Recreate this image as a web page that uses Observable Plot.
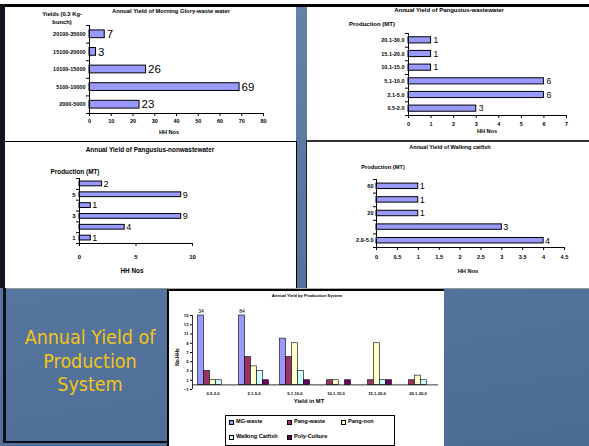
<!DOCTYPE html>
<html><head><meta charset="utf-8">
<script src="https://cdn.jsdelivr.net/npm/d3@7"></script>
<script src="https://cdn.jsdelivr.net/npm/@observablehq/plot@0.6"></script>
<style>
html,body{margin:0;padding:0;}
body{width:589px;height:446px;position:relative;overflow:hidden;background:linear-gradient(170deg,#6485ae 0%,#5878a2 45%,#4c6b94 100%);font-family:"Liberation Sans",Arial,sans-serif;}
.box{position:absolute;box-sizing:border-box;}
.abs{position:absolute;white-space:nowrap;line-height:1;}
svg{overflow:visible;}
</style></head><body>
<script>
// ---- Panel A: Morning Glory (waste water) ----
const mgCategories = ["2000-5000","5100-10000","10100-15000","15100-20000","20100-35000"];
const mgHH = [23, 69, 26, 3, 7];
// ---- Panel B: Pangusius (waste water) ----
const pwCategories = ["0.5-2.0","2.1-5.0","5.1-10.0","10.1-15.0","15.1-20.0","20.1-30.0"];
const pwHH = [3, 6, 6, 1, 1, 1];
// ---- Panel C: Pangusius (non waste water) ----
const pnTickLabels = ["1","","3","","5",""];
const pnHH = [1, 4, 9, 1, 9, 2];
// ---- Panel D: Walking catfish ----
const wcTickLabels = ["2.0-5.0","","20","","60"];
const wcHH = [4, 3, 1, 1, 1];
// ---- Panel E: Annual Yield by Production System ----
const sysCategories = ["0.5-2.0","2.1-5.0","5.1-10.0","10.1-15.0","15.1-20.0","20.1-30.0"];
const seriesNames = ["MG-waste","Pang-waste","Pang-non","Walking Catfish","Poly-Culture"];
const mgWaste = [34, 84, 10, 0, 0, 0];
const pangWaste = [3, 6, 6, 1, 1, 1];
const pangNon = [1, 4, 9, 1, 9, 2];
const walkingCatfish = [1, 3, 3, 0, 1, 1];
const polyCulture = [0, 1, 1, 1, 1, 0];
const seriesColors = ["#9999FF","#993366","#FFFFCC","#CCFFFF","#660066"];
const sysYTicks = [-1, 1, 3, 5, 7, 9, 11, 13, 15];

const BAR = "#9999FF";

function box(x, y, w, h, css) {
  const d = document.createElement("div");
  d.className = "box";
  Object.assign(d.style, {left: x + "px", top: y + "px", width: w + "px", height: h + "px"}, css);
  document.body.appendChild(d);
  return d;
}
function txt(s, x, y, css, anchor = "middle", extra = "") {
  const d = document.createElement("div");
  d.className = "abs";
  d.textContent = s;
  Object.assign(d.style, {fontWeight: "bold", color: "#000"}, css);
  d.style.left = x + "px"; d.style.top = y + "px";
  d.style.transform = (anchor === "middle" ? "translate(-50%,-50%)" : anchor === "end" ? "translate(-100%,-50%)" : "translate(0,-50%)") + " " + extra;
  document.body.appendChild(d);
  return d;
}
function place(el, x, y) {
  el.style.position = "absolute"; el.style.left = x + "px"; el.style.top = y + "px";
  document.body.appendChild(el);
}

// ---------- frame / panels ----------
box(0, 0, 589, 4, {background: "#fff"});
box(5, 6, 291, 135, {background: "#fff"});
box(307, 6, 282, 134, {background: "#fff"});
box(5, 142, 291, 146, {background: "#fff"});
box(307, 141, 282, 147, {background: "#fff"});
box(169, 290, 275, 156, {background: "#fff"});
box(0, 4, 589, 2.5, {background: "#000"});
box(0, 4, 5, 284, {background: "#11141c"});
box(5, 141, 291, 1, {background: "#000"});
box(307, 140, 282, 1.5, {background: "#333"});
box(295.5, 141, 1.2, 147, {background: "#000"});
box(306, 140, 1.2, 148, {background: "#222"});
box(5, 287.5, 291, 1, {background: "#999"});
box(307, 287.5, 282, 1, {background: "#999"});
box(168, 288, 276, 1, {background: "#aaa"});
box(168, 289, 276, 1.5, {background: "#000"});
box(167, 289, 2, 157, {background: "#000"});
box(3, 288, 2.5, 155, {background: "#0d1018"});
box(3, 441, 166, 2, {background: "#0d1018"});

// ---------- horizontal bar chart helper ----------
function hbar(o) {
  const n = o.values.length;
  const data = o.values.map((v, i) => ({i, v}));
  const pad = o.pad;
  const svg = Plot.plot({
    width: o.width, height: o.height,
    marginLeft: o.mL, marginRight: o.mR, marginTop: o.mT, marginBottom: o.mB,
    x: {domain: [0, o.xMax]},
    y: {domain: [0, n]},
    style: {background: "transparent", fontFamily: o.font, fontSize: o.tickSize + "px", fontWeight: "bold", overflow: "visible"},
    marks: [
      Plot.rect(data, {x1: () => 0, x2: "v", y1: d => d.i + pad / 2, y2: d => d.i + 1 - pad / 2, fill: BAR, stroke: "#000", strokeWidth: 1}),
      Plot.ruleX([0], {stroke: "#000", strokeWidth: 1}),
      Plot.ruleY([0], {stroke: "#000", strokeWidth: 1}),
      Plot.axisY(d3.range(n + 1), {tickSize: 3, tickFormat: () => "", label: null}),
      Plot.axisY(d3.range(n).map(i => i + 0.5), {tickSize: 0, tickPadding: o.yPad, tickFormat: t => o.labels[Math.floor(t)], label: null}),
      Plot.axisX(d3.range(0, o.xMax + o.xStep / 2, o.xStep), {tickSize: 3, tickPadding: o.xPad, tickFormat: d => String(+d.toFixed(2)), label: null}),
      Plot.text(data, {x: "v", y: d => d.i + 0.5, text: d => String(d.v), dx: o.labelDx, textAnchor: "start", fontSize: o.labelSize, fontWeight: "normal", fontFamily: o.labelFont || o.font})
    ]
  });
  place(svg, o.left, o.top);
}

// Panel A
hbar({left: 5, top: 4, width: 291, height: 137, mL: 84, mR: 33, mT: 21, mB: 28,
  values: mgHH, labels: mgCategories, xMax: 80, xStep: 10, pad: 0.56,
  font: "Liberation Sans, Arial, sans-serif", tickSize: 5.5, yPad: 4, xPad: 3, labelSize: 11.5, labelDx: 2});
txt("Annual Yield of Morning Glory-waste water", 171, 12, {fontSize: "5.8px"});
txt("Yields (0.3 Kg-", 62, 15, {fontSize: "5.8px"});
txt("bunch)", 62, 23, {fontSize: "5.8px"});
txt("HH Nos", 169, 133, {fontSize: "5.6px"});

// Panel B
hbar({left: 307, top: 4, width: 282, height: 136, mL: 101, mR: 23, mT: 29, mB: 25,
  values: pwHH, labels: pwCategories, xMax: 7, xStep: 1, pad: 0.55,
  font: "Liberation Sans, Arial, sans-serif", tickSize: 5.5, yPad: 4, xPad: 4, labelSize: 8.5, labelDx: 2.5});
txt("Annual Yield of Pangusius-wastewater", 449, 10, {fontSize: "6px"});
txt("Production (MT)", 372, 24, {fontSize: "6px"});
txt("HH Nos", 487, 132, {fontSize: "5.6px"});

// Panel C
const narrow = "Liberation Sans Narrow, Liberation Sans, Arial, sans-serif";
hbar({left: 5, top: 141, width: 291, height: 147, mL: 74, mR: 104, mT: 37, mB: 45,
  values: pnHH, labels: pnTickLabels, xMax: 10, xStep: 5, pad: 0.56,
  font: narrow, tickSize: 6, yPad: 4, xPad: 8, labelSize: 9, labelDx: 1.5});
txt("Annual Yield of Pangusius-nonwastewater", 150, 150, {fontSize: "6.4px", fontFamily: narrow});
txt("Production (MT)", 75, 172, {fontSize: "6.4px", fontFamily: narrow});
txt("HH Nos", 132, 271, {fontSize: "6.4px", fontFamily: narrow});

// Panel D
hbar({left: 307, top: 140, width: 282, height: 148, mL: 69, mR: 25, mT: 39, mB: 41,
  values: wcHH, labels: wcTickLabels, xMax: 4.5, xStep: 0.5, pad: 0.6,
  font: narrow, tickSize: 5.6, yPad: 3, xPad: 5, labelSize: 9, labelDx: 1.5});
txt("Annual Yield of Walking catfish", 450, 148, {fontSize: "5.5px", fontFamily: narrow});
txt("Production (MT)", 383, 168, {fontSize: "5.7px", fontFamily: narrow});
txt("HH Nos", 468, 272, {fontSize: "5.7px", fontFamily: narrow});

// Panel E: grouped bars
(function () {
  const series = [mgWaste, pangWaste, pangNon, walkingCatfish, polyCulture];
  const data = [];
  series.forEach((arr, s) => arr.forEach((v, c) => data.push({c, s, v, name: seriesNames[s]})));
  const yMax = sysYTicks[sysYTicks.length - 1], yMin = sysYTicks[0];
  const gPad = 0.135, bw = (1 - 2 * gPad) / seriesNames.length;
  const nc = sysCategories.length;
  const svg = Plot.plot({
    width: 276, height: 157, marginLeft: 24, marginRight: 6, marginTop: 26, marginBottom: 57,
    x: {domain: [0, nc]},
    y: {domain: [yMin, yMax]},
    color: {domain: seriesNames, range: seriesColors},
    style: {background: "transparent", fontFamily: "Liberation Sans, Arial, sans-serif", fontSize: "4.2px", fontWeight: "bold", overflow: "visible"},
    marks: [
      Plot.rect(data.filter(d => d.v > 0), {
        x1: d => d.c + gPad + d.s * bw, x2: d => d.c + gPad + (d.s + 1) * bw,
        y1: () => 0, y2: d => Math.min(d.v, yMax), fill: "name", stroke: "#000", strokeWidth: 0.6}),
      Plot.ruleX([0], {stroke: "#000", strokeWidth: 0.8}),
      Plot.ruleY([0], {stroke: "#000", strokeWidth: 0.8}),
      Plot.axisY(sysYTicks, {tickSize: 2, tickPadding: 2, label: null}),
      Plot.axisX(d3.range(nc).map(i => i + 0.5), {tickSize: 0, tickPadding: 2.5, tickFormat: t => sysCategories[Math.floor(t)], label: null}),
      Plot.text(data.filter(d => d.v > yMax), {x: d => d.c + gPad + (d.s + 0.5) * bw, y: () => yMax, text: d => String(d.v), dy: -4, fontSize: 5, fontWeight: "normal"})
    ]
  });
  place(svg, 168, 289);
})();
txt("Annual Yield by Production System", 307, 296, {fontSize: "4.2px"});
txt("Yield in MT", 309, 402, {fontSize: "5.8px"});
txt("No.HHs", 178, 357, {fontSize: "4.8px"}, "middle", "rotate(-90deg)");

// legend
box(225, 415, 170, 31, {background: "#fff", border: "1px solid #000"});
const legendPos = [[229, 422], [287, 422], [341, 422], [229, 437], [287, 437]];
seriesNames.forEach((name, i) => {
  const [x, y] = legendPos[i];
  box(x, y - 2.5, 5, 5, {background: seriesColors[i], border: "0.8px solid #000"});
  txt(name, x + 7, y, {fontSize: "5.6px"}, "start");
});

// bottom-left slide title
["Annual Yield of", "Production", "System"].forEach((line, i) => {
  txt(line, 90, 338 + i * 23.5, {fontSize: "19.5px", fontWeight: "normal", color: "#F3C416",
    fontFamily: "DejaVu Sans Condensed, Roboto, sans-serif", fontStretch: "condensed"});
});
</script>
</body></html>
